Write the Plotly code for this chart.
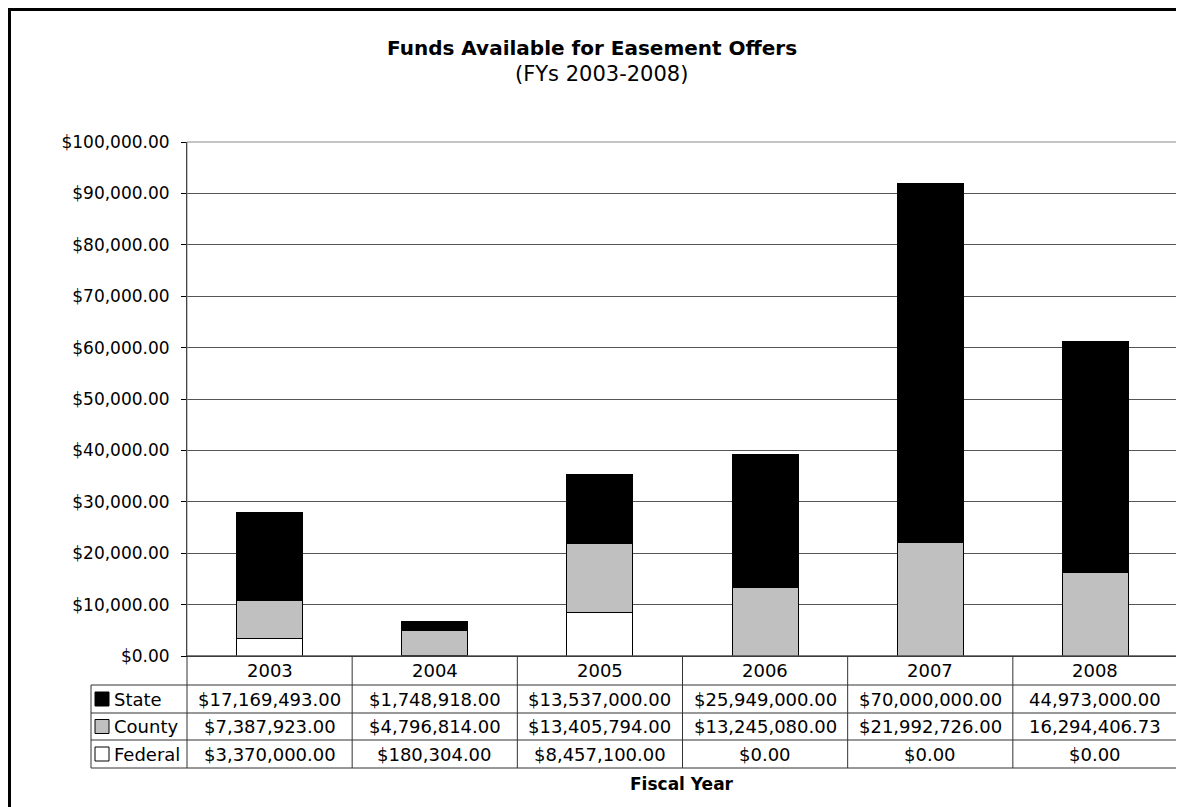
import plotly.graph_objects as go

years = ["2003", "2004", "2005", "2006", "2007", "2008"]
state = [17169493.00, 1748918.00, 13537000.00, 25949000.00, 70000000.00, 44973000.00]
county = [7387923.00, 4796814.00, 13405794.00, 13245080.00, 21992726.00, 16294406.73]
federal = [3370000.00, 180304.00, 8457100.00, 0.00, 0.00, 0.00]
# cells printed without a dollar sign in the original table
no_dollar = {("State", "2008"), ("County", "2008")}

OFF = 8  # page body margin in the browser
W, H = 1184 - OFF, 807 - OFF
PL, PR, PT, PB = 187, 1178, 142, 656  # plot area in screen pixels
FONT = "DejaVu Sans"


def px(x):
    return (x - PL) / (PR - PL)


def py(y):
    return (PB - y) / (PB - PT)


fig = go.Figure()
series = [("Federal", federal, "#FFFFFF"), ("County", county, "#C0C0C0"), ("State", state, "#000000")]
for name, vals, col in series:
    fig.add_trace(go.Bar(
        x=years, y=[v / 1000 for v in vals], name=name, width=0.4,
        marker=dict(color=col, line=dict(color="#000000", width=1)),
        hoverinfo="skip",
    ))

shapes = []
annos = []

# outer frame
shapes.append(dict(type="rect", xref="paper", yref="paper",
                   x0=px(9.5), x1=px(1200), y0=py(830), y1=py(9.5),
                   line=dict(color="#000000", width=3), fillcolor="rgba(0,0,0,0)"))
# plot border
shapes.append(dict(type="rect", xref="paper", yref="paper", x0=0, x1=1, y0=0, y1=1,
                   line=dict(color="#8a8a8a", width=1), layer="above"))

# data table
row_edges = [656, 685, 713, 740, 768]
col_edges = [PL + i * (PR - PL) / 6 for i in range(7)]
tbl_left = 91
line = dict(color="#333333", width=1)
for i, y in enumerate(row_edges):
    x0 = PL if i == 0 else tbl_left
    shapes.append(dict(type="line", xref="paper", yref="paper", x0=px(x0), x1=px(PR),
                       y0=py(y), y1=py(y), line=line))
for i, x in enumerate(col_edges):
    shapes.append(dict(type="line", xref="paper", yref="paper", x0=px(x), x1=px(x),
                       y0=py(row_edges[0]), y1=py(row_edges[-1]), line=line))
shapes.append(dict(type="line", xref="paper", yref="paper", x0=px(tbl_left), x1=px(tbl_left),
                   y0=py(row_edges[1]), y1=py(row_edges[-1]), line=line))

cell_font = dict(family=FONT, size=18, color="#000000")
for j, yr in enumerate(years):
    cx = px((col_edges[j] + col_edges[j + 1]) / 2)
    annos.append(dict(x=cx, y=py((row_edges[0] + row_edges[1]) / 2), xref="paper", yref="paper",
                      text=yr, showarrow=False, font=cell_font, xanchor="center", yanchor="middle"))

rows = [("State", state, "#000000"), ("County", county, "#C0C0C0"), ("Federal", federal, "#FFFFFF")]
for r, (name, vals, col) in enumerate(rows):
    y0, y1 = row_edges[r + 1], row_edges[r + 2]
    cy = (y0 + y1) / 2
    shapes.append(dict(type="rect", xref="paper", yref="paper",
                       x0=px(95), x1=px(109), y0=py(cy + 7), y1=py(cy - 7),
                       fillcolor=col, line=dict(color="#000000", width=1)))
    annos.append(dict(x=px(112), y=py(cy), xref="paper", yref="paper", text=name,
                      showarrow=False, font=cell_font, xanchor="left", yanchor="middle"))
    for j, yr in enumerate(years):
        pre = "" if (name, yr) in no_dollar else "$"
        annos.append(dict(x=px((col_edges[j] + col_edges[j + 1]) / 2), y=py(cy),
                          xref="paper", yref="paper", text=f"{pre}{vals[j]:,.2f}",
                          showarrow=False, font=cell_font, xanchor="center", yanchor="middle"))

annos.append(dict(x=px(681.5), y=py(784), xref="paper", yref="paper",
                  text="<b>Fiscal Year</b>", showarrow=False,
                  font=dict(family=FONT, size=17, color="#000000"), xanchor="center", yanchor="middle"))
annos.append(dict(x=px(592), y=py(48), xref="paper", yref="paper",
                  text="<b>Funds Available for Easement Offers</b>", showarrow=False,
                  font=dict(family=FONT, size=20, color="#000000"), xanchor="center", yanchor="middle"))
annos.append(dict(x=px(601), y=py(74), xref="paper", yref="paper",
                  text="(FYs 2003-2008)", showarrow=False,
                  font=dict(family=FONT, size=21, color="#000000"), xanchor="center", yanchor="middle"))

fig.update_layout(
    width=W, height=H, barmode="stack", showlegend=False,
    margin=dict(l=PL - OFF, r=W + OFF - PR, t=PT - OFF, b=H + OFF - PB, pad=0),
    paper_bgcolor="#FFFFFF", plot_bgcolor="#FFFFFF",
    font=dict(family=FONT, size=17, color="#000000"),
    shapes=shapes, annotations=annos,
    xaxis=dict(showticklabels=False, ticks="", showgrid=False, zeroline=False,
               showline=True, linecolor="#000000", linewidth=1, range=[-0.5, 5.5]),
    yaxis=dict(range=[0, 100000], dtick=10000, tickformat="$,.2f", ticks="outside",
               ticklen=5, tickcolor="#000000", showgrid=True, gridcolor="#555555", gridwidth=1,
               zeroline=False, showline=True, linecolor="#000000", linewidth=1,
               ticklabelstandoff=8,
               tickfont=dict(family=FONT, size=17, color="#000000")),
)

fig.write_html("out.html")
